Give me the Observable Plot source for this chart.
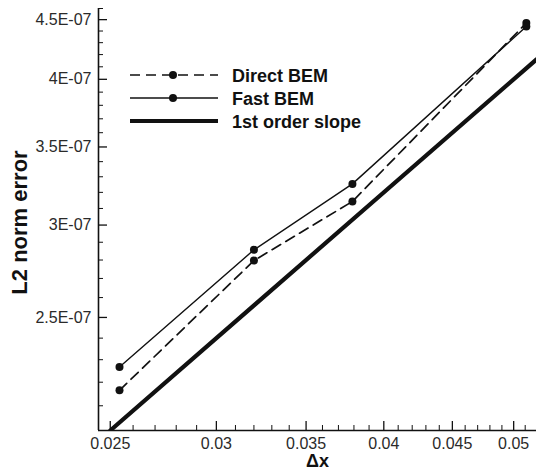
<!DOCTYPE html>
<html><head><meta charset="utf-8">
<script src="https://cdn.jsdelivr.net/npm/d3@7"></script>
<script src="https://cdn.jsdelivr.net/npm/@observablehq/plot@0.6"></script>
<style>
html,body{margin:0;padding:0;background:#fff;}
#chart{position:relative;width:536px;height:474px;}
#overlay{position:absolute;left:0;top:0;}
</style></head><body><div id="chart"></div>
<script>
// ---- data ----
const seriesNames = ["Direct BEM", "Fast BEM", "1st order slope"];
const dxValues = [0.0254, 0.032, 0.0379, 0.0511];
const directBEM = [2.165e-7, 2.797e-7, 3.143e-7, 4.47e-7];
const fastBEM = [2.267e-7, 2.857e-7, 3.254e-7, 4.44e-7];
const slopeX = [0.025, 0.052];
const slopeY = [2.0e-7, 4.16e-7];
const xTicks = [0.025, 0.03, 0.035, 0.04, 0.045, 0.05];
const xTickLabels = ["0.025", "0.03", "0.035", "0.04", "0.045", "0.05"];
const xMinorTicks = [0.026, 0.027, 0.028, 0.029, 0.031, 0.032, 0.033, 0.034, 0.036, 0.037, 0.038, 0.039,
  0.041, 0.042, 0.043, 0.044, 0.046, 0.047, 0.048, 0.049, 0.051];
const yTicks = [2.5e-7, 3e-7, 3.5e-7, 4e-7, 4.5e-7];
const yTickLabels = ["2.5E-07", "3E-07", "3.5E-07", "4E-07", "4.5E-07"];
const yMinorTicks = [2.1e-7, 2.2e-7, 2.3e-7, 2.4e-7, 2.6e-7, 2.7e-7, 2.8e-7, 2.9e-7, 3.1e-7, 3.2e-7, 3.3e-7, 3.4e-7,
  3.6e-7, 3.7e-7, 3.8e-7, 3.9e-7, 4.1e-7, 4.2e-7, 4.3e-7, 4.4e-7, 4.6e-7];
const xDomain = [0.0245, 0.052];
const yDomain = [2.0e-7, 4.6e-7];
const xTitle = "Δx";
const yTitle = "L2 norm error";

// ---- tables ----
const directRows = dxValues.map((x, i) => ({x, y: directBEM[i]}));
const fastRows = dxValues.map((x, i) => ({x, y: fastBEM[i]}));
const slopeRows = slopeX.map((x, i) => ({x, y: slopeY[i]}));
const xLabelRows = xTicks.map((x, i) => ({x, label: xTickLabels[i]}));
const yLabelRows = yTicks.map((y, i) => ({y, label: yTickLabels[i]}));

const ink = "#111";
const textInk = "#2a2a2a";
const font = "'Liberation Sans', Arial, sans-serif";

const plot = Plot.plot({
  width: 536,
  height: 474,
  marginLeft: 98,
  marginRight: 0,
  marginTop: 8,
  marginBottom: 44,
  style: {fontFamily: font, fontSize: "16px", background: "#fff", color: ink},
  x: {type: "log", domain: xDomain},
  y: {type: "log", domain: yDomain},
  marks: [
    // axis lines
    Plot.ruleX([xDomain[0]], {stroke: ink, strokeWidth: 1.6}),
    Plot.ruleY([yDomain[0]], {stroke: ink, strokeWidth: 1.6}),
    // inward ticks
    Plot.axisX(xTicks, {anchor: "bottom", tickSize: 9, dy: -9, fill: "none", stroke: ink, strokeWidth: 1.3, label: null}),
    Plot.axisX(xMinorTicks, {anchor: "bottom", tickSize: 5, dy: -5, fill: "none", stroke: ink, strokeWidth: 1, label: null}),
    Plot.axisY(yTicks, {anchor: "left", tickSize: 9, dx: 9, fill: "none", stroke: ink, strokeWidth: 1.3, label: null}),
    Plot.axisY(yMinorTicks, {anchor: "left", tickSize: 5, dx: 5, fill: "none", stroke: ink, strokeWidth: 1, label: null}),
    // tick labels
    Plot.text(xLabelRows, {x: "x", text: "label", frameAnchor: "bottom", dy: 7, lineAnchor: "top",
      fill: textInk, fontSize: 16}),
    Plot.text(yLabelRows, {y: "y", text: "label", frameAnchor: "left", dx: -7, textAnchor: "end",
      lineAnchor: "middle", fill: textInk, fontSize: 16}),
    // data
    Plot.line(slopeRows, {x: "x", y: "y", stroke: ink, strokeWidth: 4.2, clip: true}),
    Plot.line(directRows, {x: "x", y: "y", stroke: ink, strokeWidth: 1.7, strokeDasharray: "10,6"}),
    Plot.line(fastRows, {x: "x", y: "y", stroke: ink, strokeWidth: 1.4}),
    Plot.dot(directRows, {x: "x", y: "y", r: 4, fill: ink, stroke: "none"}),
    Plot.dot(fastRows, {x: "x", y: "y", r: 4, fill: ink, stroke: "none"})
  ]
});
const chart = document.getElementById("chart");
chart.appendChild(plot);

// ---- overlay: titles + legend ----
const ov = d3.select(chart).append("svg").attr("id", "overlay").attr("width", 536).attr("height", 474);
ov.append("text").attr("x", 317.5).attr("y", 467).attr("text-anchor", "middle")
  .attr("font-family", font).attr("font-weight", "bold").attr("font-size", 18).attr("fill", ink).text(xTitle);
ov.append("text").attr("transform", "translate(27,222.5) rotate(-90)").attr("text-anchor", "middle")
  .attr("font-family", font).attr("font-weight", "bold").attr("font-size", 22).attr("fill", ink).text(yTitle);

const legendStyles = [
  {dash: "10,6", width: 1.7, dot: true},
  {dash: null, width: 1.4, dot: true},
  {dash: null, width: 4.2, dot: false}
];
const rowY0 = 75, rowStep = 23;
seriesNames.forEach((name, i) => {
  const s = legendStyles[i];
  const g = ov.append("g").attr("transform", `translate(0,${rowY0 + i * rowStep})`);
  g.append("line").attr("x1", 130).attr("x2", 218).attr("y1", 0).attr("y2", 0)
    .attr("stroke", ink).attr("stroke-width", s.width).attr("stroke-dasharray", s.dash);
  if (s.dot) g.append("circle").attr("cx", 173).attr("cy", 0).attr("r", 4).attr("fill", ink);
  g.append("text").attr("x", 232).attr("y", 6.5).text(name)
    .attr("font-family", font).attr("font-weight", "bold")
    .attr("font-size", 18).attr("fill", ink);
});
</script>
</body></html>
